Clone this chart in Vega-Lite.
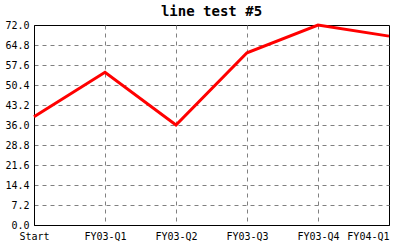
{
  "$schema": "https://vega.github.io/schema/vega-lite/v6.json",
  "width": 355,
  "height": 200,
  "autosize": "none",
  "padding": {"left": 34, "top": 25, "right": 11, "bottom": 25},
  "background": "white",
  "title": {
    "text": "line test #5",
    "font": "DejaVu Sans Mono",
    "fontSize": 14,
    "fontWeight": "bold",
    "color": "black",
    "anchor": "middle",
    "offset": 0
  },
  "config": {
    "view": {"stroke": "black", "strokeWidth": 1},
    "axis": {
      "labelFont": "DejaVu Sans Mono",
      "labelFontSize": 10,
      "labelColor": "black",
      "domainColor": "black",
      "domainWidth": 1,
      "ticks": false,
      "grid": true,
      "gridDash": [4, 4],
      "gridWidth": 1,
      "title": null
    }
  },
  "data": {
    "values": [
      {"q": "Start", "v": 39},
      {"q": "FY03-Q1", "v": 55},
      {"q": "FY03-Q2", "v": 36},
      {"q": "FY03-Q3", "v": 62},
      {"q": "FY03-Q4", "v": 72},
      {"q": "FY04-Q1", "v": 68}
    ]
  },
  "mark": {"type": "line", "color": "#ff0000", "strokeWidth": 3, "clip": false},
  "encoding": {
    "x": {
      "field": "q",
      "type": "ordinal",
      "sort": null,
      "scale": {"type": "point", "padding": 0},
      "axis": {
        "labelAngle": 0,
        "labelPadding": 6,
        "labelAlign": {"condition": {"test": "datum.value == 'FY04-Q1'", "value": "right"}, "value": "center"},
        "gridColor": {"condition": {"test": "datum.value == 'FY04-Q1' || datum.value == 'Start'", "value": "transparent"}, "value": "#808080"}
      }
    },
    "y": {
      "field": "v",
      "type": "quantitative",
      "scale": {"domain": [0, 72], "nice": false, "zero": true},
      "axis": {
        "values": [0, 7.2, 14.4, 21.6, 28.8, 36, 43.2, 50.4, 57.6, 64.8, 72],
        "format": ".1f",
        "labelPadding": 5,
        "gridColor": {"condition": {"test": "datum.value == 0 || datum.value == 72", "value": "transparent"}, "value": "#808080"}
      }
    }
  }
}
